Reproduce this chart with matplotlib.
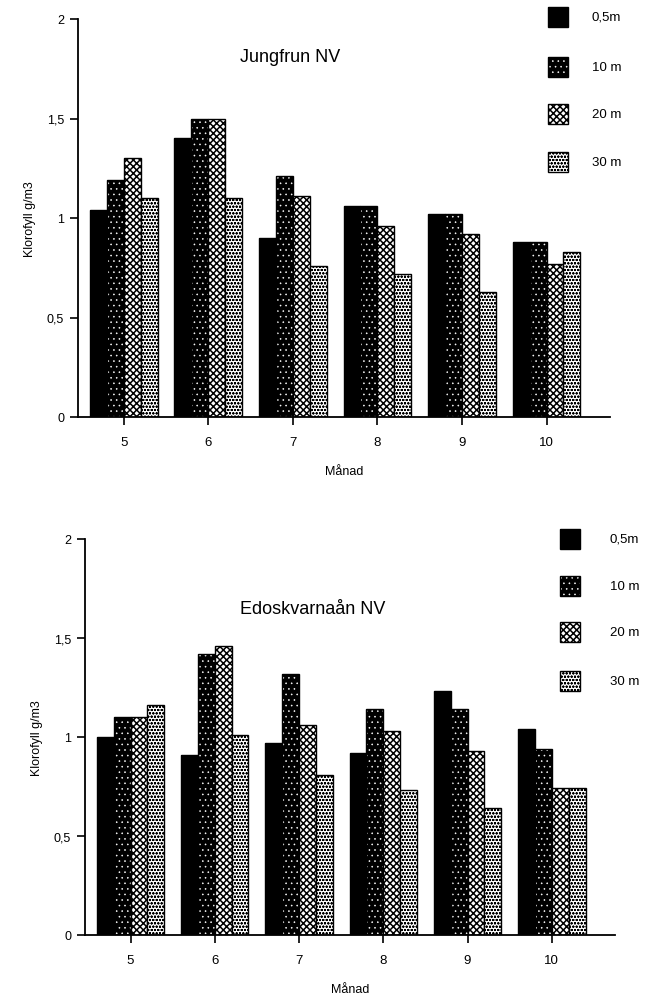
import matplotlib
matplotlib.use("Agg")
import matplotlib.pyplot as plt
import numpy as np
from matplotlib.patches import Rectangle

plt.rcParams['font.family'] = ['Liberation Sans', 'DejaVu Sans']

months = [5, 6, 7, 8, 9, 10]
month_labels = ["5", "6", "7", "8", "9", "10"]
depths = ["0,5m", "10 m", "20 m", "30 m"]

jungfrun_05 = [1.04, 1.40, 0.90, 1.06, 1.02, 0.88]
jungfrun_10 = [1.19, 1.50, 1.21, 1.06, 1.02, 0.88]
jungfrun_20 = [1.30, 1.50, 1.11, 0.96, 0.92, 0.77]
jungfrun_30 = [1.10, 1.10, 0.76, 0.72, 0.63, 0.83]

edos_05 = [1.00, 0.91, 0.97, 0.92, 1.23, 1.04]
edos_10 = [1.10, 1.42, 1.32, 1.14, 1.14, 0.94]
edos_20 = [1.10, 1.46, 1.06, 1.03, 0.93, 0.74]
edos_30 = [1.16, 1.01, 0.81, 0.73, 0.64, 0.74]

yticks = [0, 0.5, 1, 1.5, 2]
ytick_labels = ["0", "0,5", "1", "1,5", "2"]

# (facecolor, hatch, hatchcolor, hatch linewidth)
styles = [("black", None, "black", 1.0),
          ("black", "...", "white", 0.4),
          ("white", "xxxxx", "black", 1.1),
          ("white", "ooooo", "black", 0.6)]

fig = plt.figure(figsize=(6.52, 10.03), dpi=100)
W, H = 652, 1003


def hatched_rect(xy, w, h, st):
    fc, hatch, hc, hlw = st
    with plt.rc_context({'hatch.linewidth': hlw}):
        r = Rectangle(xy, w, h, transform=fig.transFigure, facecolor=fc,
                      hatch=hatch, edgecolor=hc, linewidth=0)
    return r


def draw(ax_rect, series, title, title_xy, leg_x, leg_ys, leg_tx):
    ax = fig.add_axes(ax_rect)
    x = np.array(months, dtype=float)
    w = 0.2
    for i, vals in enumerate(series):
        fc, hatch, hc, hlw = styles[i]
        pos = x + (i - 1.5) * w
        with plt.rc_context({'hatch.linewidth': hlw}):
            ax.bar(pos, vals, w, color=fc, hatch=hatch, edgecolor=hc, linewidth=0)
        ax.bar(pos, vals, w, fill=False, edgecolor="black", linewidth=1.0)
    ax.set_xlim(4.46, 10.75)
    ax.set_ylim(0, 2)
    ax.spines['top'].set_visible(False)
    ax.spines['right'].set_visible(False)
    ax.spines['left'].set_linewidth(1.3)
    ax.spines['bottom'].set_linewidth(1.3)
    ax.set_yticks(yticks)
    ax.set_yticklabels(ytick_labels, fontsize=9)
    ax.set_xticks(months)
    ax.set_xticklabels(month_labels, fontsize=9.5)
    ax.tick_params(axis='y', direction='out', length=6, width=1.2, pad=4)
    ax.tick_params(axis='x', direction='out', length=6, width=1.2, pad=8)
    ax.set_xlabel("Månad", fontsize=9, labelpad=12)
    ax.set_ylabel("Klorofyll g/m3", fontsize=9, labelpad=8)
    fig.text(title_xy[0] / W, 1 - title_xy[1] / H, title, fontsize=13,
             ha='center', va='center')
    for i, yy in enumerate(leg_ys):
        rx, ry = leg_x / W, 1 - (yy + 10) / H
        rw, rh = 20 / W, 20 / H
        fig.patches.append(hatched_rect((rx, ry), rw, rh, styles[i]))
        fig.patches.append(Rectangle((rx, ry), rw, rh, transform=fig.transFigure,
                                     fill=False, edgecolor="black", linewidth=1.0))
        fig.text(leg_tx / W, 1 - yy / H, depths[i], fontsize=9.5, va='center', ha='left')
    return ax


draw([78 / W, 1 - 418 / H, (610 - 78) / W, 398 / H],
     [jungfrun_05, jungfrun_10, jungfrun_20, jungfrun_30],
     "Jungfrun NV", (290, 57), 548, [18, 68, 115, 163], 592)

draw([85 / W, 1 - 936 / H, (615 - 85) / W, 396 / H],
     [edos_05, edos_10, edos_20, edos_30],
     "Edoskvarnaån NV", (313, 610), 560, [540, 587, 633, 682], 610)

fig.savefig("out.png", dpi=100)
